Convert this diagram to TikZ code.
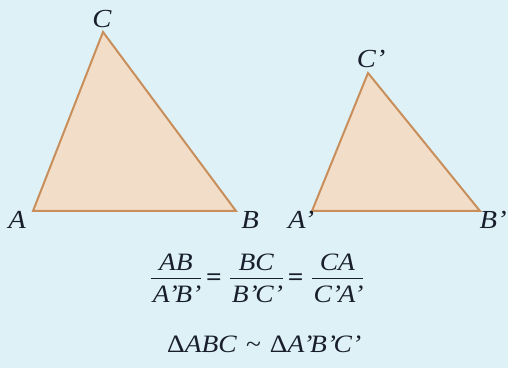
\documentclass[tikz,border=0pt]{standalone}
\usepackage{fontspec}
\setmainfont[FakeStretch=1.1]{Liberation Serif}
\definecolor{bgblue}{RGB}{221,241,246}
\definecolor{tanfill}{RGB}{242,222,200}
\definecolor{tanline}{RGB}{200,142,92}
\definecolor{inkblue}{RGB}{25,30,45}
\newcommand{\pr}{’\kern-1.2pt}
\newcommand{\eqsign}{\hbox{\raisebox{-0.4pt}{\bfseries =}}}
\newcommand{\ratiofrac}[2]{\vcenter{\hbox{\renewcommand\arraystretch{0}\setlength{\tabcolsep}{1pt}\begin{tabular}{c}\rule[-3.5pt]{0pt}{9.5pt}\textit{#1}\\\hline\rule[-0.5pt]{0pt}{12.5pt}\textit{#2}\end{tabular}}}}

\begin{document}
\begin{tikzpicture}[x=0.5pt,y=-0.5pt,tri/.style={draw=tanline,fill=tanfill,line width=1pt,line join=miter},lbl/.style={font=\fontsize{13}{16}\selectfont\itshape,text=inkblue,inner sep=0pt},eq/.style={font=\fontsize{12.5}{15}\selectfont,text=inkblue,inner sep=0pt,anchor=base}]
\fill[bgblue] (0,0) rectangle (508,368);
\useasboundingbox (0,0) rectangle (508,368);
\coordinate (A) at (33,211);
\coordinate (B) at (236,211);
\coordinate (C) at (103,32);
\coordinate (A1) at (312,211);
\coordinate (B1) at (480,211);
\coordinate (C1) at (368,73);
\draw[tri] (A) -- (B) -- (C) -- cycle;
\draw[tri] (A1) -- (B1) -- (C1) -- cycle;
\node[lbl] (lA) at (17,220) {A};
\node[lbl] (lB) at (250,220) {B};
\node[lbl] (lC) at (102,19) {C};
\node[lbl] (lA1) at (300,220) {A\pr};
\node[lbl] (lB1) at (492,220) {B\pr};
\node[lbl] (lC1) at (370,59) {C\pr};
\node[eq] (ratio) at (257,285) {$\ratiofrac{AB}{A\pr B\pr}\mkern4mu\eqsign\mkern6mu\ratiofrac{BC}{B\pr C\pr}\mkern4mu\eqsign\mkern6mu\ratiofrac{CA}{C\pr A\pr}$};
\node[eq] (simil) at (263,352) {Δ\textit{ABC}\kern4.5pt\textasciitilde\kern4.5pt Δ\textit{A\pr B\pr C\pr}};
\end{tikzpicture}
\end{document}
